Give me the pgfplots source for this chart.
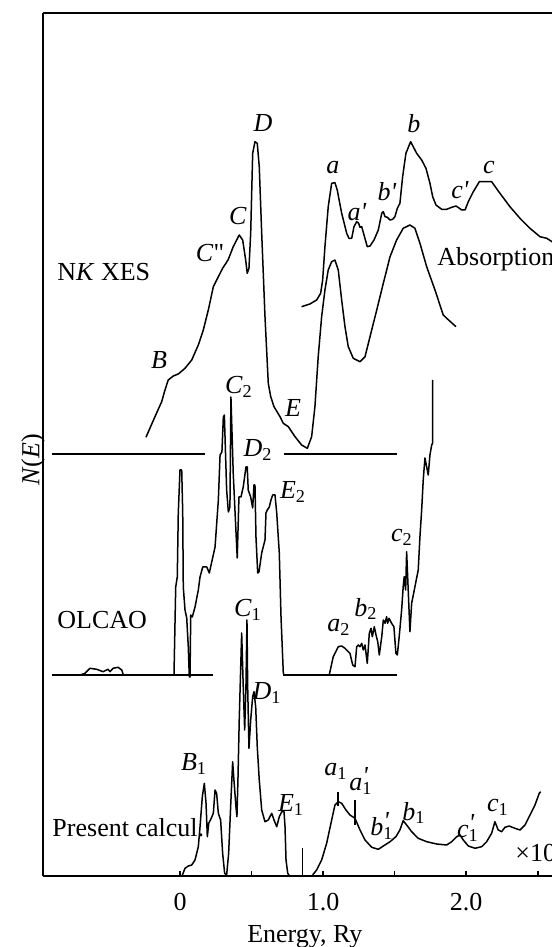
\documentclass[border=0pt]{standalone}
\usepackage{fontspec}
\setmainfont{Liberation Serif}
\usepackage{pgfplots}
\pgfplotsset{compat=1.18}
\newcommand{\fs}{\fontsize{13bp}{15bp}\selectfont}
\newcommand{\pr}{\textquotesingle}
\newcommand{\ps}[2]{\textit{#1}\rlap{\raisebox{0.55ex}{\textit{\pr}}}\textsubscript{#2}}
\begin{document}
\begin{tikzpicture}[font=\fs, lt/.style={anchor=west, inner sep=0pt}]
\begin{axis}[
  at={(0,0)}, anchor=south west, scale only axis,
  width=254.25bp, height=431.5bp,
  xmin=-0.954, xmax=2.6, ymin=71, ymax=934,
  axis x line=box, axis y line=left,
  axis line style={-, line width=1bp},
  xtick={0,0.5,1,1.5,2,2.5}, xticklabels={0,,1.0,,2.0,},
  xtick pos=bottom, tick align=inside, major tick length=2.6bp,
  ytick=\empty,
  every tick/.style={line width=0.8bp, black},
  /pgf/number format/assume math mode=true,
  tick label style={font=\fs},
  xticklabel style={yshift=-5bp},
  label style={font=\fs},
  xlabel={Energy, Ry}, ylabel={\textit{N}(\textit{E})},
  xlabel style={at={(rel axis cs:0.514,-0.0705)}, anchor=center},
  ylabel style={at={(rel axis cs:-0.0206,0.482)}, anchor=center},
  clip=true,
  curve/.style={black, solid, line width=0.75bp, line join=round, mark=none},
  base/.style={black, solid, line width=1bp, mark=none},
]
% baselines
\addplot[base] coordinates {(-0.894,493) (0.175,493)};
\addplot[base] coordinates {(0.727,493) (1.516,493)};
\addplot[base] coordinates {(-0.894,272) (0.231,272)};
\addplot[base] coordinates {(0.720,272) (1.516,272)};
% NK XES + lower absorption
\addplot[curve] coordinates {
(-0.238,509.7) (-0.175,530.3) (-0.128,545.3) (-0.105,557) (-0.082,567) (-0.047,571)
(-0.012,573) (0.035,578.7) (0.082,587) (0.128,602) (0.163,617) (0.198,637) (0.233,660.3)
(0.268,670.3) (0.298,678.7) (0.321,683.7) (0.338,687.7) (0.372,700.3) (0.414,712)
(0.438,707) (0.459,687) (0.470,673.7) (0.482,678.7) (0.494,713.7) (0.508,793.7)
(0.524,805.3) (0.540,803.7) (0.554,780.3) (0.571,713.7) (0.594,630.3) (0.617,563.7)
(0.634,550.3) (0.657,540.3) (0.699,530.3) (0.722,523.7) (0.757,520.3) (0.804,510.3)
(0.850,502) (0.890,498.7) (0.920,510.3) (0.943,540.3) (0.966,590.3) (0.990,630.3)
(1.013,657) (1.036,677) (1.060,685.3) (1.083,687) (1.106,677) (1.130,647) (1.153,620.3)
(1.176,600.3) (1.211,588.7) (1.258,585.3) (1.293,590.3) (1.328,610.3) (1.375,637)
(1.421,663.7) (1.468,690.3) (1.514,707) (1.560,718.7) (1.607,722) (1.642,718.7)
(1.677,703.7) (1.724,680.3) (1.782,657) (1.840,632) (1.864,628.7) (1.929,620.3)
};
% upper absorption
\addplot[curve] coordinates {
(0.850,640.3) (0.908,643) (0.955,647) (0.983,653.7) (0.997,667) (1.013,700.3)
(1.036,740.3) (1.060,763.7) (1.083,764.3) (1.099,757) (1.130,733.7) (1.165,713.7)
(1.181,708.7) (1.200,708.7) (1.216,720.3) (1.235,725.3) (1.249,723.7) (1.258,719.7)
(1.270,720.3) (1.286,712) (1.309,700.3) (1.328,701) (1.356,707) (1.386,717)
(1.410,733.7) (1.421,735.3) (1.433,730.3) (1.449,729.7) (1.468,727) (1.486,727.7)
(1.502,730.3) (1.519,738.7) (1.537,743.7) (1.556,770.3) (1.579,793.7) (1.612,805.3)
(1.630,800.3) (1.654,793.7) (1.689,787) (1.719,778.7) (1.747,763.7) (1.766,750.3)
(1.789,742) (1.829,737.7) (1.864,737.7) (1.899,739.7) (1.929,741) (1.950,739)
(1.969,737) (1.992,737) (2.015,745.3) (2.050,755.3) (2.092,765.3) (2.178,765.3)
(2.236,753.7) (2.306,740.3) (2.376,728.7) (2.446,718.7) (2.516,710.3) (2.563,708.7)
(2.600,705.3) (2.655,700)
};
% OLCAO
\addplot[curve] coordinates {
(-0.699,272) (-0.664,273.7) (-0.629,278.7) (-0.582,277.7) (-0.538,275.3) (-0.503,277.7)
(-0.489,275.3) (-0.468,278.7) (-0.433,279.7) (-0.407,277) (-0.396,272)
};
\addplot[curve] coordinates {
(-0.042,272) (-0.030,360) (-0.019,370) (-0.012,434) (0.000,477) (0.012,477) (0.019,434)
(0.023,360) (0.035,337) (0.047,329) (0.058,300) (0.065,270) (0.070,270) (0.075,332)
(0.086,330) (0.105,340) (0.128,357) (0.140,370) (0.159,380) (0.187,380) (0.205,374)
(0.217,382) (0.245,400) (0.268,447) (0.280,492) (0.293,495) (0.303,530) (0.310,532)
(0.326,457) (0.338,435) (0.349,440) (0.356,550) (0.372,474) (0.384,437) (0.400,389)
(0.412,450) (0.426,450) (0.442,460) (0.461,480) (0.470,480) (0.477,457) (0.494,450)
(0.508,439) (0.517,462) (0.524,462) (0.531,410) (0.543,374) (0.552,375) (0.571,394)
(0.594,407) (0.601,434) (0.610,437) (0.624,440) (0.636,447) (0.648,452) (0.664,452)
(0.676,434) (0.694,394) (0.706,330) (0.722,274) (0.727,272)
};
\addplot[curve] coordinates {
(1.043,272) (1.071,290.3) (1.106,300.3) (1.130,301) (1.153,298.7) (1.188,293.7)
(1.207,282) (1.223,280.3) (1.235,300.3) (1.246,302) (1.258,300.3) (1.270,303.7)
(1.281,297) (1.293,302) (1.309,283.7) (1.323,313.7) (1.335,318.7) (1.344,310.3)
(1.358,320.3) (1.370,312) (1.382,305.3) (1.393,292) (1.410,310.3) (1.421,327)
(1.433,323.7) (1.444,330.3) (1.451,323.7) (1.461,328.7) (1.479,323.7) (1.495,320.3)
(1.509,293.7) (1.519,292) (1.532,310.3) (1.549,337) (1.560,360.3) (1.567,370.3)
(1.577,357) (1.584,395.3) (1.595,357) (1.607,315.3) (1.619,343.7) (1.642,360.3)
(1.665,377) (1.677,410.3) (1.689,437) (1.700,467) (1.712,489) (1.735,472)
(1.747,492) (1.759,502) (1.766,504) (1.766,567)
};
% Present calculation
\addplot[curve] coordinates {
(0.000,70.3) (0.012,70.3) (0.035,78.7) (0.058,81) (0.082,82) (0.105,87) (0.128,100.3)
(0.140,120.3) (0.156,150.3) (0.170,163.7) (0.182,143.7) (0.191,110.3) (0.201,123.7)
(0.215,127.7) (0.233,133.7) (0.245,157) (0.256,153.7) (0.268,133.7) (0.284,127)
(0.298,93.7) (0.312,73.7) (0.326,72) (0.340,93.7) (0.354,140.3) (0.368,185.3)
(0.377,167) (0.391,140.3) (0.398,130.3) (0.405,167) (0.414,227) (0.431,314)
(0.442,260.3) (0.452,217) (0.461,260.3) (0.468,327) (0.473,260.3) (0.482,198.7)
(0.494,227) (0.508,250.3) (0.517,255.3) (0.529,240.3) (0.540,200.3) (0.554,167)
(0.571,137) (0.594,125.3) (0.617,127) (0.641,133.7) (0.657,127) (0.676,120.3)
(0.694,130.3) (0.711,135.3) (0.727,135.3) (0.734,120.3) (0.741,87) (0.753,73.7)
(0.769,70.3)
};
\addplot[curve] coordinates {(0.857,98.7) (0.857,71)};
\addplot[curve] coordinates {
(0.927,72) (0.955,77) (0.990,87) (1.025,103.7) (1.060,127) (1.083,142) (1.106,145.3)
(1.130,143.7) (1.160,137) (1.188,132) (1.223,128.7) (1.258,117) (1.293,107) (1.340,99.7)
(1.386,97.7) (1.421,101) (1.468,105.3) (1.509,110.3) (1.537,117) (1.560,126.3)
(1.584,122) (1.619,115.3) (1.665,108.7) (1.724,105.3) (1.794,103) (1.864,102)
(1.899,105.3) (1.934,110.3) (1.957,112) (1.980,107) (2.015,101) (2.062,98.7)
(2.108,100.3) (2.143,105.3) (2.178,113.7) (2.201,125.3) (2.224,117) (2.248,115.3)
(2.271,119.7) (2.301,121) (2.341,118.7) (2.376,117) (2.411,122) (2.446,132)
(2.481,142) (2.511,153.7) (2.521,155.3)
};
\addplot[curve] coordinates {(1.106,141) (1.106,155.3)};
\addplot[curve] coordinates {(1.223,122) (1.223,147)};
% labels
\node at (axis cs:-0.147,587) {\textit{B}};
\node at (axis cs:0.210,694) {\textit{C}\textquotedbl};
\node at (axis cs:0.405,731) {\textit{C}};
\node at (axis cs:0.580,824) {\textit{D}};
\node at (axis cs:0.790,539) {\textit{E}};
\node at (axis cs:1.069,779) {\textit{a}};
\node at (axis cs:1.237,735) {\textit{a\pr}};
\node at (axis cs:1.447,755) {\textit{b\pr}};
\node at (axis cs:1.635,823) {\textit{b}};
\node at (axis cs:1.957,757) {\textit{c\pr}};
\node at (axis cs:2.159,779) {\textit{c}};
\node[lt] at (axis cs:1.796,688) {Absorption};
\node[lt] at (axis cs:-0.860,675) {N\textit{K} XES};
\node at (axis cs:0.412,560) {\textit{C}\textsubscript{2}};
\node at (axis cs:0.545,497) {\textit{D}\textsubscript{2}};
\node at (axis cs:0.790,455) {\textit{E}\textsubscript{2}};
\node[lt] at (axis cs:-0.860,327) {OLCAO};
\node at (axis cs:1.111,320) {\textit{a}\textsubscript{2}};
\node at (axis cs:1.300,338) {\textit{b}\textsubscript{2}};
\node at (axis cs:1.551,410) {\textit{c}\textsubscript{2}};
\node at (axis cs:0.475,337) {\textit{C}\textsubscript{1}};
\node at (axis cs:0.608,254) {\textit{D}\textsubscript{1}};
\node at (axis cs:0.098,183) {\textit{B}\textsubscript{1}};
\node at (axis cs:0.776,142) {\textit{E}\textsubscript{1}};
\node[lt] at (axis cs:-0.894,119) {Present calcul.};
\node at (axis cs:1.090,176) {\textit{a}\textsubscript{1}};
\node at (axis cs:1.265,166) {\ps{a}{1}};
\node at (axis cs:1.412,121) {\ps{b}{1}};
\node at (axis cs:1.635,134) {\textit{b}\textsubscript{1}};
\node at (axis cs:2.013,119) {\ps{c}{1}};
\node at (axis cs:2.222,140) {\textit{c}\textsubscript{1}};
\node[lt] at (axis cs:2.341,94) {×10};
\end{axis}
\pgfresetboundingbox
\useasboundingbox (-21.75bp,-35.5bp) rectangle (254.25bp,438bp);
\end{tikzpicture}
\end{document}
